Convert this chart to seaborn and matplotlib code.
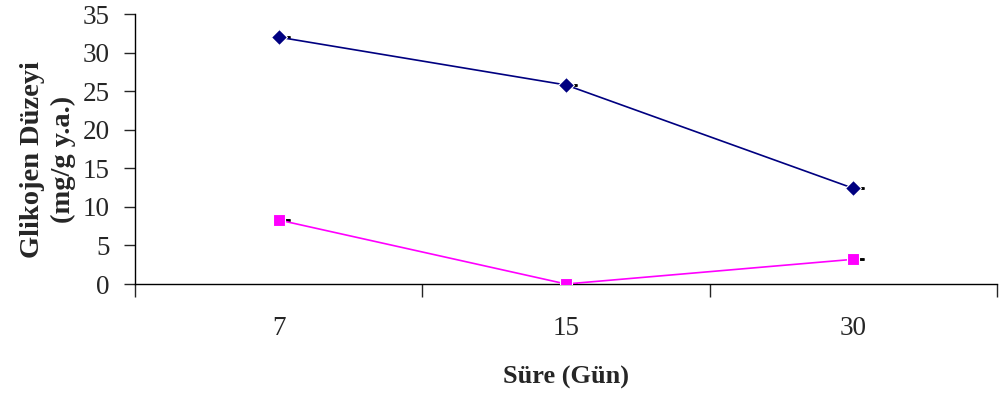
import matplotlib
matplotlib.use("Agg")
import matplotlib.pyplot as plt
import seaborn as sns
import pandas as pd
import numpy as np

# Measurement days and glycogen levels for the two groups
days = ["7", "15", "30"]
group_a = [32.0, 25.8, 12.4]
group_b = [8.3, 0.0, 3.2]
group_names = ["A", "B"]
y_ticks = [0, 5, 10, 15, 20, 25, 30, 35]

sns.set_style("ticks")
plt.rcParams["font.family"] = ["Liberation Serif", "DejaVu Serif"]

df = pd.DataFrame({
    "pos": list(range(len(days))) * 2,
    "value": group_a + group_b,
    "group": [group_names[0]] * len(days) + [group_names[1]] * len(days),
})

fig = plt.figure(figsize=(10.04, 3.96), dpi=100)
ax = fig.add_axes([135 / 1004, (396 - 284) / 396, 862 / 1004, 270 / 396])

palette = {group_names[0]: "#000080", group_names[1]: "#FF00FF"}
markers = {group_names[0]: "D", group_names[1]: "s"}

sns.lineplot(data=df, x="pos", y="value", hue="group", style="group",
             palette=palette, markers=markers, dashes=False,
             linewidth=1.2, markersize=8.5, markeredgewidth=0.8,
             legend=False, ax=ax, zorder=3)

# small black error caps behind the markers
for g in group_names:
    sub = df[df["group"] == g]
    ax.errorbar(sub["pos"] + 0.014, sub["value"], yerr=0.0, fmt="none",
                ecolor="black", capsize=5, capthick=1.8, elinewidth=0,
                zorder=2)

ax.set_xlim(-0.5, len(days) - 0.5)
ax.set_ylim(0, 35)
ax.set_yticks(y_ticks)
ax.set_yticklabels([str(t) for t in y_ticks], fontsize=19.5)

# category boundaries carry the tick marks, labels sit at the centres
ax.set_xticks(np.arange(-0.5, len(days), 1.0))
ax.set_xticklabels([])
ax.set_xticks(range(len(days)), minor=True)
ax.set_xticklabels(days, minor=True, fontsize=19.5)
ax.tick_params(axis="x", which="major", length=9, width=1, direction="out")
ax.tick_params(axis="x", which="minor", length=0, pad=23)
ax.tick_params(axis="y", length=8, width=1, direction="out", pad=10)

for side in ["top", "right"]:
    ax.spines[side].set_visible(False)
for side in ["left", "bottom"]:
    ax.spines[side].set_color("black")
    ax.spines[side].set_linewidth(1)

ax.set_xlabel("Süre (Gün)", fontsize=19, fontweight="bold")
ax.xaxis.set_label_coords(0.5, -0.305)
ax.set_ylabel("Glikojen Düzeyi\n(mg/g y.a.)", fontsize=20.5, fontweight="bold",
              linespacing=1.3)
ax.yaxis.set_label_coords(-0.069, 0.46)
ax.grid(False)

fig.savefig("out.png", dpi=100)
